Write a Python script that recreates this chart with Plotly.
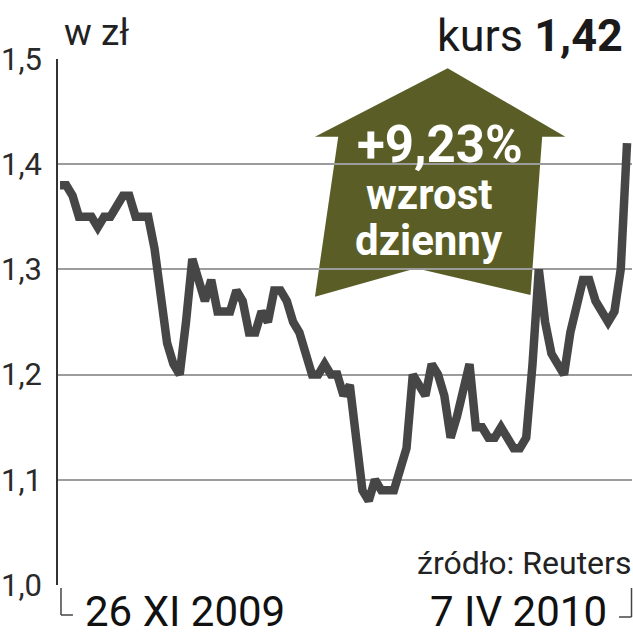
import plotly.graph_objects as go

# ---- data ----
start_label = "26 XI 2009"
end_label = "7 IV 2010"
prices = [
    1.38, 1.38, 1.37, 1.35, 1.35, 1.35, 1.34, 1.35, 1.35, 1.36,
    1.37, 1.37, 1.35, 1.35, 1.35, 1.32, 1.28, 1.23, 1.21, 1.20,
    1.25, 1.31, 1.29, 1.27, 1.29, 1.26, 1.26, 1.26, 1.28, 1.27,
    1.24, 1.24, 1.26, 1.25, 1.28, 1.28, 1.27, 1.25, 1.24, 1.22,
    1.20, 1.20, 1.21, 1.20, 1.20, 1.18, 1.19, 1.14, 1.09, 1.08,
    1.10, 1.09, 1.09, 1.09, 1.11, 1.13, 1.20, 1.19, 1.18, 1.21,
    1.20, 1.18, 1.14, 1.16, 1.19, 1.21, 1.15, 1.15, 1.14, 1.14,
    1.15, 1.14, 1.13, 1.13, 1.14, 1.21, 1.30, 1.25, 1.22, 1.21,
    1.20, 1.24, 1.27, 1.29, 1.29, 1.27, 1.26, 1.25, 1.26, 1.30,
    1.42,
]
days = list(range(len(prices)))
y_ticks = [1.0, 1.1, 1.2, 1.3, 1.4, 1.5]
y_ticktext = ["1,0", "1,1", "1,2", "1,3", "1,4", "1,5"]
unit_label = "w zł"
price_label = "kurs <b>1,42</b>"
change_label = "+9,23%"
change_text = ["wzrost", "dzienny"]
source_label = "źródło: Reuters"

# ---- layout geometry (pixels) ----
W, H = 633, 640
L, R, T, B = 55, 632, 59, 585


def xp(px):
    return (px - L) / (R - L)


def yp(py):
    return (B - py) / (B - T)


step = (627 - 57) / (len(prices) - 1)
x_range = [(L - 57) / step, (R - 57) / step]

fig = go.Figure()
fig.add_trace(go.Scatter(
    x=days, y=prices, mode="lines",
    line=dict(color="#464646", width=8.5, shape="linear"),
    hoverinfo="skip",
))

# arrow polygon (decoration)
arrow_pts = [(446.7, 68.3), (565, 136.7), (541.7, 136.7), (530, 295),
             (415, 268.3), (313.3, 296.7), (336.7, 136.7), (313.3, 136.7)]
path = "M " + " L ".join(f"{xp(x):.5f},{yp(y):.5f}" for x, y in arrow_pts) + " Z"

shapes = [
    dict(type="path", path=path, xref="paper", yref="paper",
         fillcolor="#5a5e26", line=dict(width=0), layer="between"),
    # bottom brackets
    dict(type="line", xref="paper", yref="paper", x0=xp(58), x1=xp(58), y0=yp(588), y1=yp(615),
         line=dict(color="#444", width=1.5)),
    dict(type="line", xref="paper", yref="paper", x0=xp(58), x1=xp(70), y0=yp(615), y1=yp(615),
         line=dict(color="#444", width=1.5)),
    dict(type="line", xref="paper", yref="paper", x0=xp(631.5), x1=xp(631.5), y0=yp(588), y1=yp(617),
         line=dict(color="#444", width=1.5)),
    dict(type="line", xref="paper", yref="paper", x0=xp(619), x1=xp(631.5), y0=yp(617), y1=yp(617),
         line=dict(color="#444", width=1.5)),
]

annotations = [
    dict(text=unit_label, xref="paper", yref="paper", x=xp(59), y=yp(33),
         xanchor="left", yanchor="middle", showarrow=False,
         font=dict(family="Roboto", size=37, color="#222")),
    dict(text=price_label, xref="paper", yref="paper", x=xp(625), y=yp(36),
         xanchor="right", yanchor="middle", showarrow=False,
         font=dict(family="Roboto", size=45, color="#1a1a1a")),
    dict(text=change_label, xref="paper", yref="paper", x=xp(439), y=yp(145),
         xanchor="center", yanchor="middle", showarrow=False,
         font=dict(family="Roboto", size=51, color="white", weight=700)),
    dict(text=change_text[0], xref="paper", yref="paper", x=xp(428), y=yp(194),
         xanchor="center", yanchor="middle", showarrow=False,
         font=dict(family="Roboto", size=42, color="white", weight=700)),
    dict(text=change_text[1], xref="paper", yref="paper", x=xp(428), y=yp(240),
         xanchor="center", yanchor="middle", showarrow=False,
         font=dict(family="Roboto", size=42, color="white", weight=700)),
    dict(text=source_label, xref="paper", yref="paper", x=xp(633), y=yp(563),
         xanchor="right", yanchor="middle", showarrow=False,
         font=dict(family="Roboto", size=32, color="#222")),
    dict(text=start_label, xref="paper", yref="paper", x=xp(80), y=yp(611),
         xanchor="left", yanchor="middle", showarrow=False,
         font=dict(family="Roboto", size=42, color="#111")),
    dict(text=end_label, xref="paper", yref="paper", x=xp(609), y=yp(611),
         xanchor="right", yanchor="middle", showarrow=False,
         font=dict(family="Roboto", size=42, color="#111")),
]

fig.update_layout(
    width=W, height=H,
    margin=dict(l=L, r=W - R, t=T, b=H - B, pad=0),
    paper_bgcolor="white", plot_bgcolor="white",
    showlegend=False,
    shapes=shapes, annotations=annotations,
    xaxis=dict(range=x_range, showgrid=False, zeroline=False, showline=False,
               showticklabels=False, ticks="", fixedrange=True),
    yaxis=dict(range=[1.0, 1.5], tickvals=y_ticks, ticktext=y_ticktext,
               showgrid=True, gridcolor="#9c9c9c", gridwidth=1.5,
               zeroline=False, showline=True, linecolor="#333", linewidth=1.5,
               ticks="", ticklabelstandoff=8,
               tickfont=dict(family="Roboto", size=31, color="#2a2a2a"),
               fixedrange=True),
)

fig.write_html(
    "out.html",
    config={"displayModeBar": False},
    post_script="document.body.style.margin='0';document.body.style.overflow='hidden';",
)
